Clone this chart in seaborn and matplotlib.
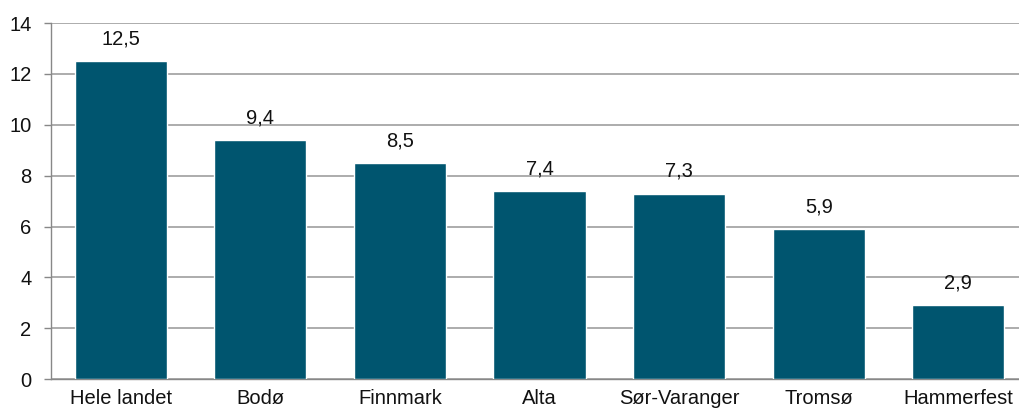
import matplotlib
matplotlib.use("Agg")
import matplotlib.pyplot as plt
import seaborn as sns
import pandas as pd
import numpy as np

categories = ["Hele landet", "Bodø", "Finnmark", "Alta", "Sør-Varanger", "Tromsø", "Hammerfest"]
values = [12.5, 9.4, 8.5, 7.4, 7.3, 5.9, 2.9]
value_labels = ["12,5", "9,4", "8,5", "7,4", "7,3", "5,9", "2,9"]
y_ticks = [0, 2, 4, 6, 8, 10, 12, 14]

sns.set_theme(style="white")
plt.rcParams["font.family"] = ["Liberation Sans", "DejaVu Sans"]

df = pd.DataFrame({"kategori": categories, "verdi": values})

fig = plt.figure(figsize=(10.19, 4.13), dpi=100)
ax = fig.add_axes([0.050, 0.082, 0.959, 0.862])

FS = 14.5
bar_color = "#00556F"
sns.barplot(data=df, x="kategori", y="verdi", color=bar_color, width=0.66,
            saturation=1, ax=ax, zorder=3)

for i, (v, lab) in enumerate(zip(values, value_labels)):
    ax.text(i, v + 0.5, lab, ha="center", va="bottom", fontsize=FS, color="#111111")

ax.set_ylim(0, 14)
ax.set_xlim(-0.5, len(categories) - 0.5)
ax.set_yticks(y_ticks)
ax.set_yticklabels([str(t) for t in y_ticks], fontsize=FS, color="#111111")
ax.yaxis.grid(True, color="#A6A6A6", linewidth=1.3, zorder=0)
ax.set_axisbelow(True)

# category ticks sit on the boundaries between bars
ax.set_xticks(np.arange(len(categories)))
ax.set_xticklabels(categories, fontsize=FS, color="#111111")
ax.tick_params(axis="x", length=0, pad=7)
ax.set_xticks(np.arange(len(categories) + 1) - 0.5, minor=True)
ax.tick_params(axis="x", which="minor", length=5, color="#888888", width=1)
ax.tick_params(axis="y", length=5, color="#888888", width=1, left=True, pad=9)

ax.set_xlabel("")
ax.set_ylabel("")
for side in ["top", "right"]:
    ax.spines[side].set_visible(False)
for side in ["left", "bottom"]:
    ax.spines[side].set_color("#888888")
    ax.spines[side].set_linewidth(1)

fig.savefig("out.png", dpi=100, facecolor="white")
